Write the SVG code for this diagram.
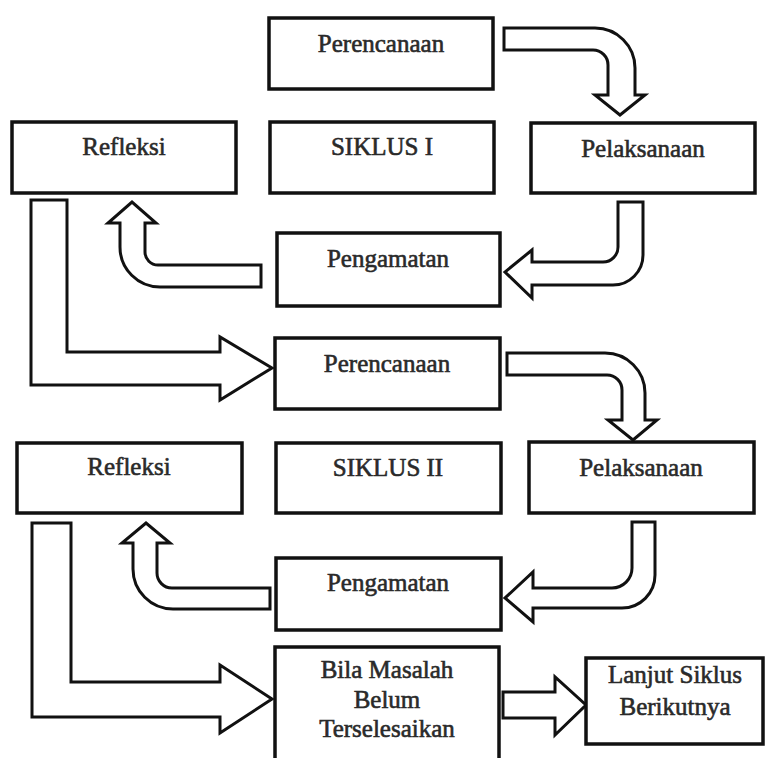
<svg xmlns="http://www.w3.org/2000/svg" width="766" height="758" viewBox="0 0 766 758">
<style>
.box{fill:#fff;stroke:#111;stroke-width:3.5}
.arr{fill:#fff;stroke:#111;stroke-width:3;stroke-linejoin:miter}
.t{font-family:"Liberation Serif","Times New Roman",serif;font-size:25px;fill:#2a2a2a;stroke:#2a2a2a;stroke-width:0.6;text-anchor:middle}
</style>
<rect width="766" height="758" fill="#fff"/>
<g id="connectors">
<path class="arr" d="M504,28 L595,28 A40,40 0 0 1 635,68 L635,95 L645,95 L620,115 L595,95 L608,95 L608,65 A15,15 0 0 0 593,50 L504,50 Z"/>
<path class="arr" d="M618,202 L643,202 L643,255 A30,30 0 0 1 613,285 L532,285 L532,298 L505,272 L532,250 L532,262 L603,262 A15,15 0 0 0 618,247 Z"/>
<path class="arr" d="M261,265 L261,287 L160,287 A40,40 0 0 1 120,247 L120,223 L108,223 L132,202 L156,223 L145,223 L145,252 A13,13 0 0 0 158,265 Z"/>
<path class="arr" d="M31,200 L67,200 L67,352 L220,352 L220,337 L272,368 L220,400 L220,385 L31,385 Z"/>
<path class="arr" d="M507,353 L605,353 A40,40 0 0 1 645,393 L645,420 L657,420 L633,440 L608,420 L622,420 L622,390 A15,15 0 0 0 607,375 L507,375 Z"/>
<path class="arr" d="M632,522 L655,522 L655,575 A33,33 0 0 1 622,608 L533,608 L533,622 L505,598 L533,572 L533,588 L612,588 A20,20 0 0 0 632,568 Z"/>
<path class="arr" d="M270,588 L270,609 L173,609 A40,40 0 0 1 133,569 L133,543 L122,543 L146,523 L170,543 L157,543 L157,573 A15,15 0 0 0 172,588 Z"/>
<path class="arr" d="M32,523 L71,523 L71,682 L220,682 L220,665 L272,699 L220,733 L220,717 L32,717 Z"/>
<path class="arr" d="M503,692 L555,692 L555,677 L586,705 L555,735 L555,718 L503,718 Z"/>
</g>
<g id="perencanaan1"><rect class="box" x="269" y="18" width="224" height="71"/><text class="t" x="381" y="52">Perencanaan</text></g>
<g id="refleksi1"><rect class="box" x="12" y="122" width="224" height="71"/><text class="t" x="124" y="155">Refleksi</text></g>
<g id="siklus1"><rect class="box" x="270" y="122" width="224" height="71"/><text class="t" x="382" y="155">SIKLUS I</text></g>
<g id="pelaksanaan1"><rect class="box" x="531" y="123" width="224" height="70"/><text class="t" x="643" y="157">Pelaksanaan</text></g>
<g id="pengamatan1"><rect class="box" x="277" y="233" width="223" height="73"/><text class="t" x="388" y="267">Pengamatan</text></g>
<g id="perencanaan2"><rect class="box" x="275" y="338" width="225" height="71"/><text class="t" x="387" y="372">Perencanaan</text></g>
<g id="refleksi2"><rect class="box" x="17" y="443" width="225" height="70"/><text class="t" x="129" y="475">Refleksi</text></g>
<g id="siklus2"><rect class="box" x="276" y="443" width="225" height="70"/><text class="t" x="388" y="476">SIKLUS II</text></g>
<g id="pelaksanaan2"><rect class="box" x="529" y="442" width="225" height="71"/><text class="t" x="641" y="476">Pelaksanaan</text></g>
<g id="pengamatan2"><rect class="box" x="276" y="558" width="225" height="72"/><text class="t" x="388" y="591">Pengamatan</text></g>
<g id="bila"><rect class="box" x="275" y="647" width="224" height="125"/><text class="t" x="387" y="678">Bila Masalah</text><text class="t" x="387" y="708">Belum</text><text class="t" x="387" y="737">Terselesaikan</text></g>
<g id="lanjut"><rect class="box" x="586" y="658" width="177" height="86"/><text class="t" x="675" y="683">Lanjut Siklus</text><text class="t" x="675" y="715">Berikutnya</text></g>
</svg>
